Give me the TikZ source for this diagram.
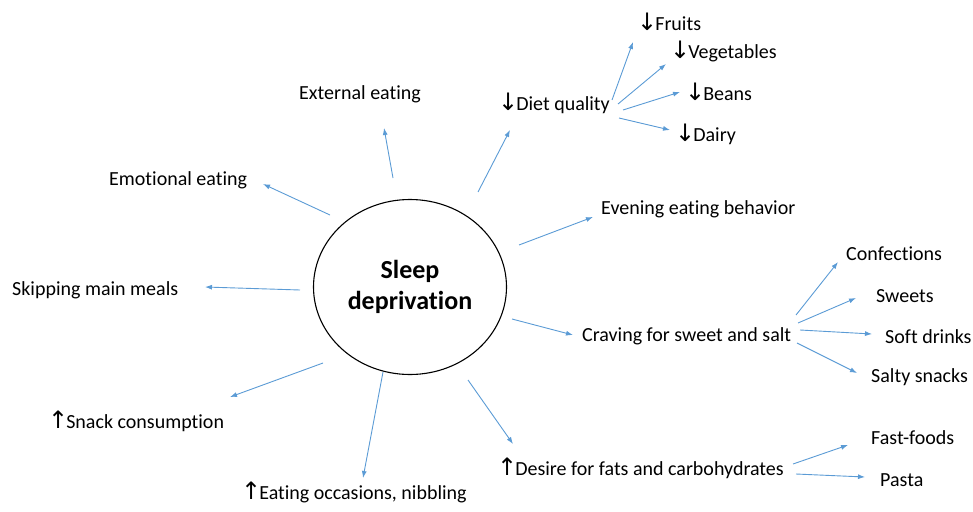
\documentclass[tikz,border=0pt]{standalone}
\usepackage{fontspec}
\setmainfont{Carlito}[Ligatures={NoCommon,NoContextual}]
\newfontfamily\arrowfont[Scale=1.2]{DejaVu Sans}
\usetikzlibrary{arrows.meta}
\usetikzlibrary{shapes.geometric}
\definecolor{branchblue}{RGB}{91,155,213}
\newcommand{\dnarr}{{\arrowfont\char"2193}\kern-2pt}
\newcommand{\uparr}{{\arrowfont\char"2191}\kern-2pt}

\begin{document}
\begin{tikzpicture}[x=1pt,y=-1pt,
  font=\fontsize{20}{24}\selectfont,
  branch/.style={branchblue, line width=0.9pt, -{Latex[length=7pt,width=5pt]}},
  lbl/.style={anchor=west, inner sep=0pt}]
\useasboundingbox (0,0) rectangle (973,511);
% centre
\node[draw, ellipse, line width=1.1pt, minimum width=193, minimum height=175, align=center,
  font=\fontsize{26}{31}\selectfont\bfseries] (sleep) at (410,287) {Sleep\\deprivation};
% first level
\node[lbl] (ext) at (299,94) {External eating};
\node[lbl] (diet) at (498,103) {\dnarr Diet quality};
\node[lbl] (emo) at (109,180) {Emotional eating};
\node[lbl] (even) at (601,209) {Evening eating behavior};
\node[lbl] (skip) at (12,290) {Skipping main meals};
\node[lbl] (crav) at (582,336) {Craving for sweet and salt};
\node[lbl] (snack) at (48,421) {\uparr Snack consumption};
\node[lbl] (occ) at (241,492) {\uparr Eating occasions, nibbling};
\node[lbl] (fat) at (497,468) {\uparr Desire for fats and carbohydrates};
% second level
\node[lbl] (fruits) at (637,22) {\dnarr Fruits};
\node[lbl] (veg) at (670,51) {\dnarr Vegetables};
\node[lbl] (beans) at (685,92) {\dnarr Beans};
\node[lbl] (dairy) at (675,134) {\dnarr Dairy};
\node[lbl] (conf) at (846,254) {Confections};
\node[lbl] (sweets) at (876,296) {Sweets};
\node[lbl] (soft) at (885,337) {Soft drinks};
\node[lbl] (salty) at (871,377) {Salty snacks};
\node[lbl] (fast) at (871,438) {Fast-foods};
\node[lbl] (pasta) at (880,480) {Pasta};
% connectors
\foreach \n/\a/\b in {ext/{393,178}/{384,128}, diet/{478,192}/{510,130},
    emo/{330,215}/{263,184}, even/{519,245}/{593,217}, skip/{300,290}/{205,287},
    crav/{512,319}/{573,335}, snack/{323,363}/{230,397}, occ/{383,372}/{363,478},
    fat/{468,380}/{513,444},
    fruits/{612,100}/{633,42}, veg/{618,104}/{666,64}, beans/{623,110}/{680,92},
    dairy/{619,118}/{670,130},
    conf/{796,315}/{838,262}, sweets/{798,323}/{856,298}, soft/{800,330}/{872,334},
    salty/{797,343}/{857,373},
    fast/{793,464}/{848,445}, pasta/{796,474}/{865,477}} {
  \coordinate (\n-s) at (\a);
  \coordinate (\n-e) at (\b);
  \draw[branch] (\n-s) -- (\n-e);
}
\end{tikzpicture}
\end{document}
